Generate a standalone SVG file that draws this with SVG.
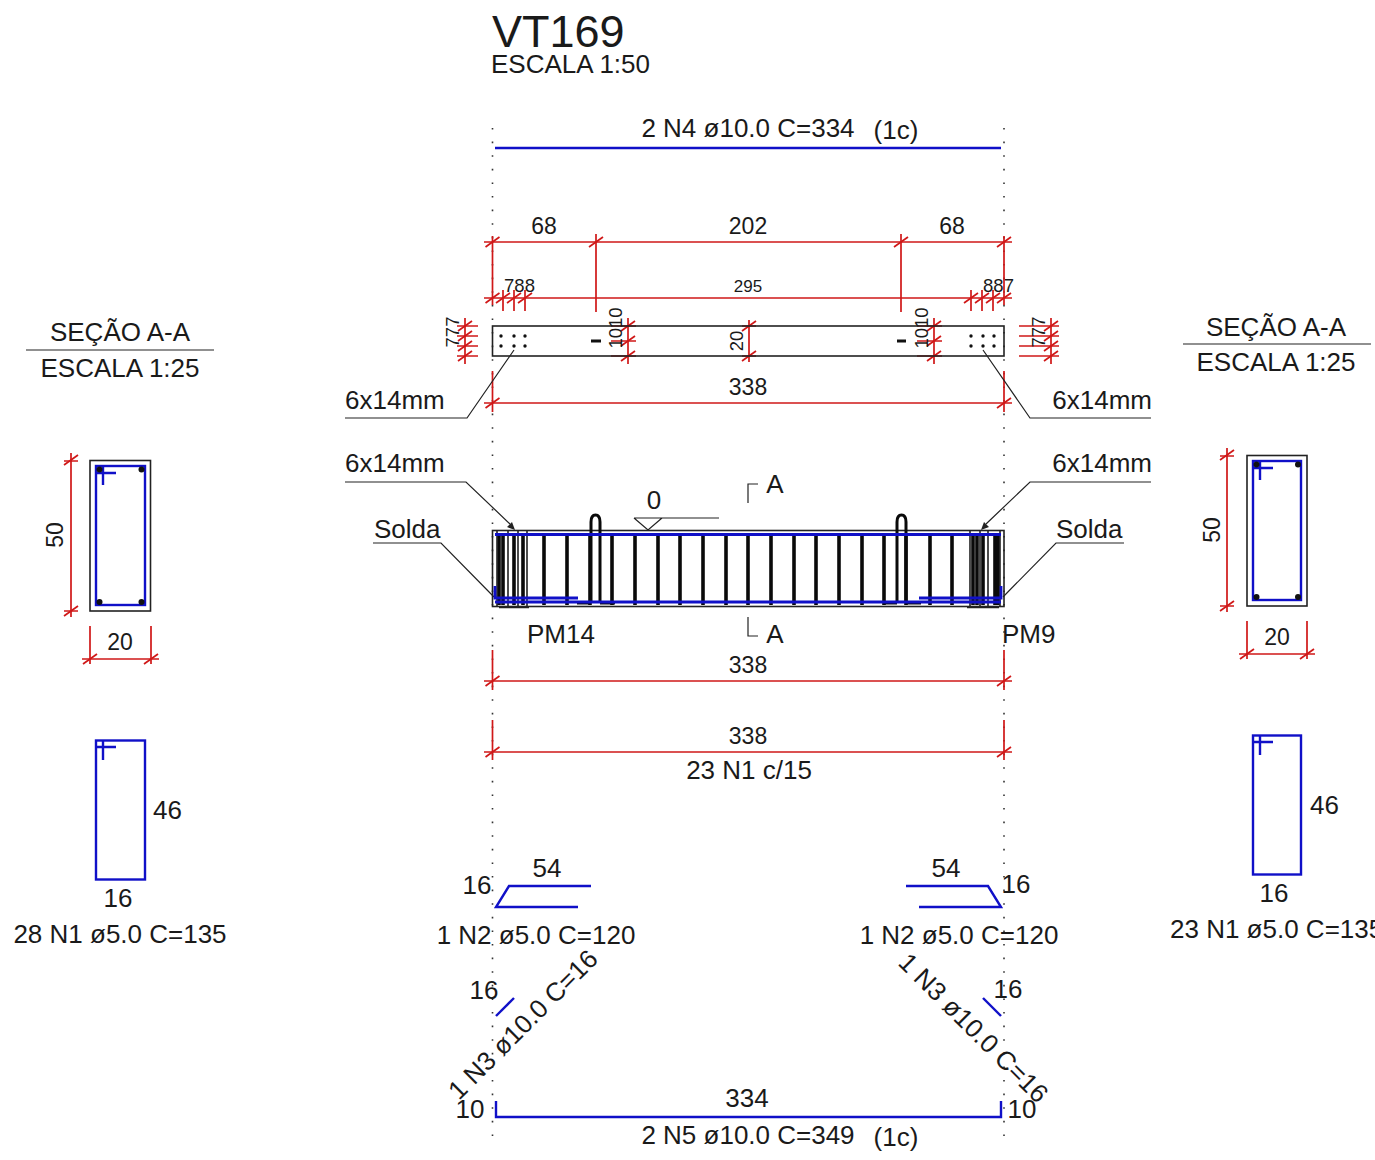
<svg xmlns="http://www.w3.org/2000/svg" xmlns:xlink="http://www.w3.org/1999/xlink" width="1375" height="1160" viewBox="0 0 1375 1160">
<style>
text{font-family:"Liberation Sans",Arial,sans-serif;font-size:26px;fill:#1a1a1a}
.m{text-anchor:middle}
.e{text-anchor:end}
.s{font-size:18.500px}
.n{font-size:23px}
.r{stroke:#d01818;stroke-width:1.700;fill:none}
.k{stroke:#222;stroke-width:1.200;fill:none}
.o{stroke:#222;stroke-width:1.600;fill:none}
.b{stroke:#1010c8;stroke-width:2.400;fill:none}
.st{stroke:#0a0a0a;stroke-width:3.600;fill:none}
.d{stroke:#333;stroke-width:1.600;stroke-dasharray:1.600 12;fill:none}
</style>
<defs>
<g id="t"><path class="r" d="M-7 5L7-5"/></g>
</defs>
<rect width="1375" height="1160" fill="#fff"/>
<g id="title"><text x="492" y="47" style="font-size:45px">VT169</text><text x="491" y="73">ESCALA 1:50</text></g>
<g id="connectors">
<path class="d" d="M492.500 128V1146M1004 128V1146"/>
<path class="r" d="M484 242H1012M492.500 236V305M596 234V312M901 234V312M1004 236V305"/>
<path class="r" d="M484 298H1012M503 290V311M514 290V311M525 290V311M971 290V311M982 290V311M993 290V311"/>
<path class="r" d="M457 326H478M457 336H478M457 346H478M457 356H478M465 318V364M1019 326H1059M1019 336H1059M1019 346H1059M1019 356H1059M1051 318V364"/>
<path class="r" d="M611 326H636M611 341H636M611 356H636M628 318V364M917 326H942M917 341H942M917 356H942M934 318V364M742 326H756M742 356H756M749 320V362"/>
<path class="r" d="M484 403H1012M492.500 371V412M1004 371V412"/>
<path class="r" d="M484 681H1012M492.500 650V690M1004 650V690M484 752H1012M492.500 720V760M1004 720V760"/>
<use xlink:href="#t" href="#t" x="492.500" y="242"/><use href="#t" x="596" y="242"/><use href="#t" x="901" y="242"/><use href="#t" x="1004" y="242"/>
<use href="#t" x="492.500" y="298"/><use href="#t" x="503" y="298"/><use href="#t" x="514" y="298"/><use href="#t" x="525" y="298"/><use href="#t" x="971" y="298"/><use href="#t" x="982" y="298"/><use href="#t" x="993" y="298"/><use href="#t" x="1004" y="298"/>
<use href="#t" x="465" y="326"/><use href="#t" x="465" y="336"/><use href="#t" x="465" y="346"/><use href="#t" x="465" y="356"/><use href="#t" x="1051" y="326"/><use href="#t" x="1051" y="336"/><use href="#t" x="1051" y="346"/><use href="#t" x="1051" y="356"/>
<use href="#t" x="628" y="326"/><use href="#t" x="628" y="341"/><use href="#t" x="628" y="356"/><use href="#t" x="934" y="326"/><use href="#t" x="934" y="341"/><use href="#t" x="934" y="356"/><use href="#t" x="749" y="326"/><use href="#t" x="749" y="356"/>
<use href="#t" x="492.500" y="403"/><use href="#t" x="1004" y="403"/><use href="#t" x="492.500" y="681"/><use href="#t" x="1004" y="681"/><use href="#t" x="492.500" y="752"/><use href="#t" x="1004" y="752"/>
<path class="k" d="M345 418H467L514 350M1151 418H1030L983 350"/>
<path class="k" d="M345 482H466L510 524M1151 482H1030L986 524"/>
<path d="M515 530L507 527L512 522ZM981 530L989 527L984 522Z" fill="#222"/>
<path class="k" d="M373 543H441L494 597M1124 543H1056L1003 597"/>
<path class="k" d="M26 350H214M1183 344H1371"/>
<path class="k" d="M748 503V484H758M748 617V636H758"/>
<path class="k" d="M634 518H719M634 518L648 530L662 518"/>
<path class="r" d="M71 453V617M64 461H78M64 611H78M90 626V664M151 626V664M82 659H159"/>
<use href="#t" x="71" y="460"/><use href="#t" x="71" y="611"/><use href="#t" x="90" y="659"/><use href="#t" x="151" y="659"/>
<path class="r" d="M1227 448V612M1220 456H1234M1220 606H1234M1247 621V659M1307 621V659M1239 654H1315"/>
<use href="#t" x="1227" y="455"/><use href="#t" x="1227" y="606"/><use href="#t" x="1247" y="654"/><use href="#t" x="1307" y="654"/>
</g>
<g id="beam-elevation">
<rect x="492.500" y="326" width="511.500" height="30" class="o"/>
<g fill="#111"><circle cx="501" cy="336" r="1.700"/><circle cx="514" cy="336" r="1.700"/><circle cx="525" cy="336" r="1.700"/><circle cx="501" cy="346" r="1.700"/><circle cx="514" cy="346" r="1.700"/><circle cx="525" cy="346" r="1.700"/><circle cx="971" cy="336" r="1.700"/><circle cx="983" cy="336" r="1.700"/><circle cx="994" cy="336" r="1.700"/><circle cx="971" cy="346" r="1.700"/><circle cx="983" cy="346" r="1.700"/><circle cx="994" cy="346" r="1.700"/></g>
<path stroke="#111" stroke-width="3" d="M591 341H601M897 341H906"/>
</g>
<g id="beam-section">
<rect x="492.500" y="530.500" width="511.500" height="76" class="o"/>
<path class="st" d="M499 533V605M503 533V605M514 533V605M523 533V605M544 533V605M567 533V605M590 533V605M612 533V605M635 533V605M658 533V605M680 533V605M703 533V605M726 533V605M748 533V605M771 533V605M794 533V605M816 533V605M839 533V605M862 533V605M884 533V605M906 533V605M930 533V605M952 533V605M973 533V605M977 533V605M983 533V605M995 533V605M998 533V605"/>
<path stroke="#0a0a0a" stroke-width="3" fill="none" d="M591 603V522Q591 515 595.500 515Q600 515 600 522V603M577 603H591M600 603H615M897 603V522Q897 515 901.500 515Q906 515 906 522V603M883 603H897M906 603H921"/>
<path class="o" d="M497 606V530M508 606V530M518 606V530M527 606V530M970 606V530M980 606V530M988 606V530M1000 606V530M499 607.500H529M967 607.500H999"/>
<path stroke="#1010c8" stroke-width="2.800" fill="none" d="M495 534.500H1001M495 602H1001M495 586V598H578M1001 586V598H919"/>
</g>
<g id="top-bar"><path stroke="#1010c8" stroke-width="2.400" d="M495 148H1001"/></g>
<g id="section-left">
<rect x="90" y="460.500" width="60.500" height="150.500" class="o"/>
<rect x="96" y="466" width="49" height="139" class="b"/>
<path class="b" d="M96 473H116M103 466V485"/>
<g fill="#111"><circle cx="99.500" cy="469.500" r="3"/><circle cx="141.500" cy="469.500" r="3"/><circle cx="99.500" cy="602" r="3"/><circle cx="141.500" cy="602" r="3"/></g>
</g>
<g id="section-right">
<rect x="1247" y="455.500" width="60" height="150.500" class="o"/>
<rect x="1253" y="461" width="48" height="139" class="b"/>
<path class="b" d="M1253 468H1273M1260 461V480"/>
<g fill="#111"><circle cx="1256.500" cy="464.500" r="3"/><circle cx="1298" cy="464.500" r="3"/><circle cx="1256.500" cy="597" r="3"/><circle cx="1298" cy="597" r="3"/></g>
</g>
<g id="stirrup-left"><rect x="96" y="740.500" width="49" height="139" class="b"/><path class="b" d="M96 747H116M103 740V760"/></g>
<g id="stirrup-right"><rect x="1253" y="735.500" width="48" height="139" class="b"/><path class="b" d="M1253 742H1273M1260 735V755"/></g>
<g id="n2-left"><path class="b" d="M591 886H509L496 907H578"/></g>
<g id="n2-right"><path class="b" d="M906 886H988L1001 907H919"/></g>
<g id="n3-left"><path class="b" d="M496 1016L514 998"/></g>
<g id="n3-right"><path class="b" d="M1001 1016L983 998"/></g>
<g id="n5"><path class="b" d="M496 1101V1117H1001V1101"/></g>
<g id="labels">
<text x="748" y="137" class="m">2 N4 ø10.0 C=334</text><text x="896" y="139" class="m">(1c)</text>
<text x="544" y="234" class="m n">68</text><text x="748" y="234" class="m n">202</text><text x="952" y="234" class="m n">68</text>
<text x="519.500" y="292" class="m s">788</text><text x="748" y="292" class="m s" style="font-size:17px">295</text><text x="998.500" y="292" class="m s">887</text>
<text transform="translate(459 332) rotate(-90)" class="m s">777</text>
<text transform="translate(1045 332) rotate(-90)" class="m s">777</text>
<text transform="translate(622 328) rotate(-90)" class="m s">1010</text><text transform="translate(928 328) rotate(-90)" class="m s">1010</text>
<text transform="translate(743 341) rotate(-90)" class="m s">20</text>
<text x="748" y="395" class="m n">338</text>
<text x="345" y="409">6x14mm</text><text x="1152" y="409" class="e">6x14mm</text>
<text x="345" y="472">6x14mm</text><text x="1152" y="472" class="e">6x14mm</text>
<text x="374" y="538">Solda</text><text x="1056" y="538">Solda</text>
<text x="654" y="509" class="m">0</text>
<text x="775" y="493" class="m">A</text><text x="775" y="643" class="m">A</text>
<text x="527" y="643">PM14</text><text x="1002" y="643">PM9</text>
<text x="748" y="673" class="m n">338</text><text x="748" y="744" class="m n">338</text>
<text x="749" y="779" class="m">23 N1 c/15</text>
<text x="120" y="341" class="m">SEÇÃO A-A</text><text x="120" y="377" class="m">ESCALA 1:25</text>
<text x="1276" y="336" class="m">SEÇÃO A-A</text><text x="1276" y="371" class="m">ESCALA 1:25</text>
<text transform="translate(63 535) rotate(-90)" class="m n">50</text><text x="120" y="650" class="m n">20</text>
<text transform="translate(1220 530) rotate(-90)" class="m n">50</text><text x="1277" y="645" class="m n">20</text>
<text x="153" y="819">46</text><text x="118" y="907" class="m">16</text><text x="120" y="943" class="m">28 N1 ø5.0 C=135</text>
<text x="1310" y="814">46</text><text x="1274" y="902" class="m">16</text><text x="1170" y="938">23 N1 ø5.0 C=135</text>
<text x="547" y="877" class="m">54</text><text x="946" y="877" class="m">54</text>
<text x="477" y="894" class="m">16</text><text x="1016" y="893" class="m">16</text>
<text x="536" y="944" class="m">1 N2 ø5.0 C=120</text><text x="959" y="944" class="m">1 N2 ø5.0 C=120</text>
<text x="484" y="999" class="m">16</text><text x="1008" y="998" class="m">16</text>
<text transform="translate(459 1101) rotate(-45)">1 N3 ø10.0 C=16</text>
<text transform="translate(897 964) rotate(45)">1 N3 ø10.0 C=16</text>
<text x="470" y="1118" class="m">10</text><text x="1022" y="1118" class="m">10</text>
<text x="747" y="1107" class="m">334</text>
<text x="748" y="1144" class="m">2 N5 ø10.0 C=349</text><text x="896" y="1146" class="m">(1c)</text>
</g>
</svg>
